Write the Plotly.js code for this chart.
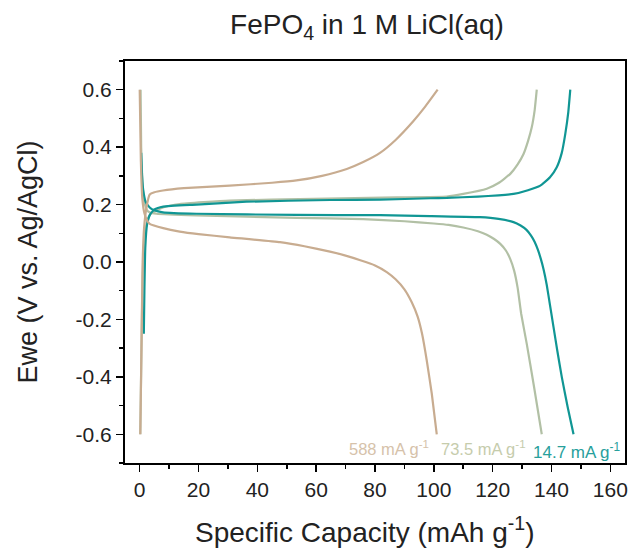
<!DOCTYPE html>
<html>
<head>
<meta charset="utf-8">
<script src="https://cdn.plot.ly/plotly-3.0.1.min.js"></script>
<style>html,body{margin:0;padding:0;background:#fff;}#chart{width:634px;height:552px;}</style>
</head>
<body>
<div id="chart"></div>
<script>
// Series labels
const seriesNames = ["588 mA g<sup>-1</sup>", "73.5 mA g<sup>-1</sup>", "14.7 mA g<sup>-1</sup>"];

// 588 mA g-1
const x588Charge = [0.2, 0.6, 1.0, 1.5, 2.3, 3.4, 5, 7.9, 15, 30.6, 45, 53.3, 62, 70.4, 76, 81.7, 87, 93, 97, 101.3];
const y588Charge = [-0.6, -0.3, 0.0, 0.12, 0.19, 0.235, 0.243, 0.249, 0.257, 0.266, 0.276, 0.284, 0.3, 0.324, 0.348, 0.38, 0.425, 0.49, 0.54, 0.6];
const x588Discharge = [0, 0.4, 0.9, 1.6, 2.5, 3.4, 8, 13.6, 20, 30.6, 47.7, 56, 64.7, 70, 75, 80, 84, 87, 90, 92.5, 94.5, 96, 97.6, 99.3, 101];
const y588Discharge = [0.6, 0.35, 0.22, 0.17, 0.145, 0.133, 0.118, 0.106, 0.097, 0.086, 0.069, 0.055, 0.036, 0.022, 0.006, -0.012, -0.035, -0.06, -0.095, -0.14, -0.19, -0.25, -0.343, -0.458, -0.6];

// 73.5 mA g-1
const x735Charge = [0.2, 0.6, 1.0, 1.6, 2.5, 3.5, 5.7, 7.9, 13.6, 30.6, 59, 87.4, 104.4, 110, 118, 122, 126, 128.5, 130.5, 132, 133.3, 134.3, 135];
const y735Charge = [-0.6, -0.3, -0.05, 0.08, 0.14, 0.165, 0.179, 0.19, 0.202, 0.214, 0.22, 0.225, 0.228, 0.237, 0.255, 0.275, 0.307, 0.34, 0.376, 0.42, 0.469, 0.53, 0.6];
const x735Discharge = [0.3, 0.5, 0.9, 1.5, 2.5, 3.5, 5.7, 19.3, 53.3, 76, 90, 100, 105, 110, 115, 118, 120.5, 122.6, 124.5, 126, 127.3, 128.5, 129.7, 131.6, 134, 136.7];
const y735Discharge = [0.6, 0.4, 0.28, 0.21, 0.18, 0.172, 0.168, 0.162, 0.154, 0.149, 0.142, 0.134, 0.129, 0.12, 0.107, 0.095, 0.08, 0.063, 0.04, 0.01, -0.03, -0.09, -0.18, -0.285, -0.43, -0.6];

// 14.7 mA g-1
const x147Charge = [1.4, 1.6, 1.9, 2.5, 3.5, 5, 8, 19.3, 36.3, 64.7, 81.7, 98.7, 104.4, 115, 122, 127.1, 132, 136.2, 139.5, 141.8, 143.5, 144.7, 145.7, 146.4];
const y147Charge = [-0.25, -0.1, 0.05, 0.13, 0.165, 0.183, 0.193, 0.2, 0.21, 0.216, 0.217, 0.222, 0.223, 0.228, 0.232, 0.237, 0.25, 0.266, 0.295, 0.33, 0.38, 0.446, 0.52, 0.6];
const x147Discharge = [0.5, 0.8, 1.2, 2, 3.4, 5, 7.9, 19.3, 53.3, 81.7, 98.7, 115.7, 122, 127.1, 129.5, 131.5, 133, 134.3, 135.4, 136.4, 137.3, 138.4, 139.5, 140.7, 142, 143.5, 145.5, 147.5];
const y147Discharge = [0.38, 0.3, 0.25, 0.21, 0.19, 0.18, 0.173, 0.168, 0.164, 0.163, 0.16, 0.156, 0.15, 0.139, 0.127, 0.112, 0.093, 0.07, 0.042, 0.01, -0.025, -0.08, -0.15, -0.227, -0.31, -0.4, -0.505, -0.6];

// Tick labels
const xTickVals = [0, 20, 40, 60, 80, 100, 120, 140, 160];
const xTickText = ["0", "20", "40", "60", "80", "100", "120", "140", "160"];
const yTickVals = [-0.6, -0.4, -0.2, 0.0, 0.2, 0.4, 0.6];
const yTickText = ["-0.6", "-0.4", "-0.2", "0.0", "0.2", "0.4", "0.6"];

const cTan = "rgb(200,172,144)";
const cSage = "rgb(178,192,165)";
const cTeal = "rgb(16,150,148)";

function tr(x, y, color, w) {
  return {x: x, y: y, type: "scatter", mode: "lines", showlegend: false,
          line: {color: color, width: w, shape: "spline", smoothing: 0.4}, hoverinfo: "skip"};
}

const data = [
  tr(x735Charge, y735Charge, cSage, 2.2),
  tr(x735Discharge, y735Discharge, cSage, 2.2),
  tr(x147Charge, y147Charge, cTeal, 2.2),
  tr(x147Discharge, y147Discharge, cTeal, 2.2),
  tr(x588Charge, y588Charge, cTan, 2.2),
  tr(x588Discharge, y588Discharge, cTan, 2.2)
];

const font = "Arial, 'Liberation Sans', sans-serif";

const layout = {
  width: 634, height: 552,
  margin: {l: 125, r: 9, t: 61, b: 89, pad: 0},
  paper_bgcolor: "#fff", plot_bgcolor: "#fff",
  font: {family: font, color: "#222", size: 21},
  title: {text: "FePO<sub>4</sub> in 1 M LiCl(aq)", font: {family: font, size: 28, color: "#222"},
          x: 367/634, xref: "container", xanchor: "center", y: 1 - 24/552, yref: "container", yanchor: "middle"},
  xaxis: {
    range: [-5, 165], showgrid: false, zeroline: false,
    showline: true, linecolor: "#000", linewidth: 2, mirror: true,
    ticks: "outside", ticklen: 7, tickwidth: 1.5, tickcolor: "#000",
    tickvals: xTickVals, ticktext: xTickText,
    tickfont: {family: font, size: 21, color: "#222"},
    minor: {ticks: "outside", ticklen: 4, tickwidth: 1.5, tickcolor: "#000", dtick: 10, tick0: 0, showgrid: false}
  },
  yaxis: {
    range: [-0.7, 0.7], showgrid: false, zeroline: false,
    showline: true, linecolor: "#000", linewidth: 2, mirror: true,
    ticks: "outside", ticklen: 7, tickwidth: 1.5, tickcolor: "#000",
    tickvals: yTickVals, ticktext: yTickText,
    tickfont: {family: font, size: 21, color: "#222"},
    minor: {ticks: "outside", ticklen: 4, tickwidth: 1.5, tickcolor: "#000", dtick: 0.1, tick0: 0, showgrid: false},
    title: {text: "Ewe (V vs. Ag/AgCl)", font: {family: font, size: 27, color: "#222"}, standoff: 30}
  },
  annotations: [
    {x: (365 - 125) / 500, y: (463 - 530) / 402, xref: "paper", yref: "paper", xanchor: "center", yanchor: "middle",
     text: "Specific Capacity (mAh g<sup>-1</sup>)", showarrow: false,
     font: {family: font, size: 28, color: "#222"}},
    {x: 84.8, y: -0.649, xref: "x", yref: "y", text: seriesNames[0], showarrow: false,
     font: {family: font, size: 16.5, color: "rgb(214,194,170)"}},
    {x: 116.9, y: -0.649, xref: "x", yref: "y", text: seriesNames[1], showarrow: false,
     font: {family: font, size: 16.5, color: "rgb(198,204,172)"}},
    {x: 148.6, y: -0.658, xref: "x", yref: "y", text: seriesNames[2], showarrow: false,
     font: {family: font, size: 17, color: "rgb(40,160,156)"}}
  ]
};

Plotly.newPlot("chart", data, layout, {staticPlot: true, displayModeBar: false});
</script>
</body>
</html>
